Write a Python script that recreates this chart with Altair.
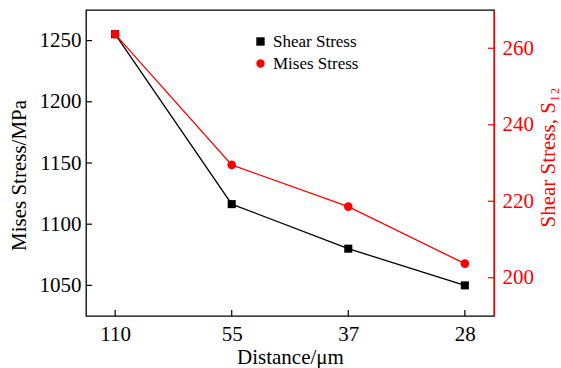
import altair as alt
import pandas as pd

# ---- data ----
distance = ["110", "55", "37", "28"]
shear_stress = [1255.2, 1116.4, 1080.0, 1050.0]   # black squares, left axis
mises_stress = [263.7, 229.5, 218.6, 203.7]       # red circles, right axis
left_ticks = [1050, 1100, 1150, 1200, 1250]
right_ticks = [200, 220, 240, 260]
series_names = ["Shear Stress", "Mises Stress"]
series_colors = ["black", "red"]
series_shapes = ["square", "circle"]

W, H = 408, 306
FONT = "Liberation Serif"

df_black = pd.DataFrame({"distance": distance, "value": shear_stress, "series": series_names[0]})
df_red = pd.DataFrame({"distance": distance, "value": mises_stress, "series": series_names[1]})
df_lt = pd.DataFrame({"value": left_ticks})
df_rt = pd.DataFrame({"value": right_ticks})
df_xt = pd.DataFrame({"distance": distance})

x_scale = alt.Scale(type="point", padding=0.25, domain=distance)
x_axis = alt.Axis(title="Distance/μm", labelAngle=0, ticks=False, domain=False, grid=False,
                  labelFont=FONT, labelColor="black", labelPadding=7,
                  titleFontWeight="normal", titleColor="black", titlePadding=2)
X = alt.X("distance:N", sort=distance, scale=x_scale, axis=x_axis)

l_scale = alt.Scale(domain=[1025, 1275], nice=False, zero=False)
l_axis = alt.Axis(title="Mises Stress/MPa", values=left_ticks, format="d", ticks=False, domain=False,
                  grid=False, labelColor="black", labelPadding=5, labelFont=FONT,
                  titleFontWeight="normal", titleColor="black", titlePadding=10, titleY=165)
r_scale = alt.Scale(domain=[190, 270], nice=False, zero=False)
r_axis = alt.Axis(title="Shear Stress, S₁₂", orient="right", values=right_ticks, format="d", ticks=False,
                  domain=True, domainColor="red", domainWidth=1.3, grid=False, zindex=2,
                  labelColor="red", labelPadding=8, labelFont=FONT,
                  titleFontWeight="normal", titleColor="red",
                  titlePadding=4, titleAngle=270, titleBaseline="top", titleY=147)

color = alt.Color("series:N", scale=alt.Scale(domain=series_names, range=series_colors),
                  legend=alt.Legend(title=None, orient="none", legendX=166, legendY=23,
                                    labelFontSize=17, labelColor="black", labelFont=FONT,
                                    symbolSize=70, rowPadding=4, symbolStrokeWidth=0))
shape = alt.Shape("series:N", scale=alt.Scale(domain=series_names, range=series_shapes))

Yl = alt.Y("value:Q", scale=l_scale, axis=l_axis)
Yr = alt.Y("value:Q", scale=r_scale, axis=r_axis)

black_line = alt.Chart(df_black).mark_line(color="black", strokeWidth=1.3).encode(x=X, y=Yl)
black_pts = alt.Chart(df_black).mark_point(filled=True, size=65, opacity=1).encode(
    x=X, y=Yl, color=color, shape=shape)
left_tick_rules = alt.Chart(df_lt).mark_rule(color="black", strokeWidth=1.2).encode(
    y=Yl, x=alt.value(0), x2=alt.value(6))
x_tick_rules = alt.Chart(df_xt).mark_rule(color="black", strokeWidth=1.2).encode(
    x=X, y=alt.value(H - 6), y2=alt.value(H))
left = alt.layer(black_line, black_pts, left_tick_rules, x_tick_rules)

red_line = alt.Chart(df_red).mark_line(color="red", strokeWidth=1.3).encode(x=X, y=Yr)
red_pts = alt.Chart(df_red).mark_point(filled=True, size=75, opacity=1).encode(
    x=X, y=Yr, color=color, shape=shape)
right_tick_rules = alt.Chart(df_rt).mark_rule(color="red", strokeWidth=1.2).encode(
    y=Yr, x=alt.value(W - 6), x2=alt.value(W))
right = alt.layer(red_line, red_pts, right_tick_rules)

chart = alt.layer(left, right).resolve_scale(y="independent").properties(
    width=W, height=H,
    autosize=alt.AutoSizeParams(type="none"),
    padding={"left": 86, "top": 10, "right": 67, "bottom": 52},
    background="white",
).configure(font=FONT).configure_view(stroke="black", strokeWidth=1.3).configure_axis(
    titleFont=FONT, labelFont=FONT, labelFontSize=21, titleFontSize=21
)

chart.save("out.html", embed_options={"renderer": "svg", "actions": False})
